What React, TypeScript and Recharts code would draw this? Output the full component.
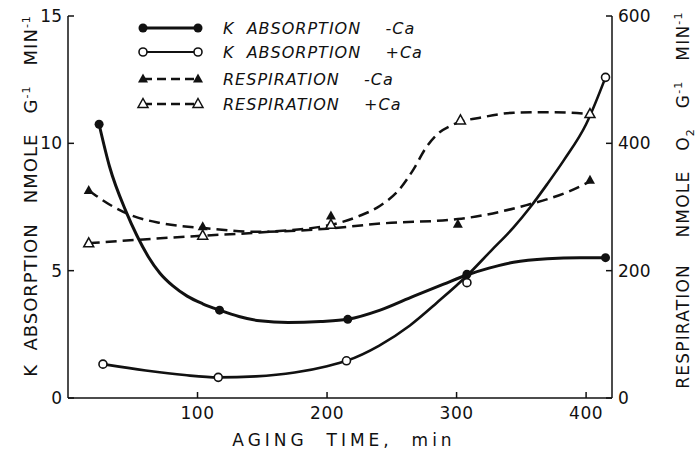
import { ComposedChart, Line, XAxis, YAxis } from 'recharts';

const FONT = '"DejaVu Sans", sans-serif';
const INK = '#111';

// measured points: aging time (min) and value
const kNoCaTime = [24, 117, 216, 308, 415];
const kNoCaValue = [10.75, 3.45, 3.09, 4.86, 5.51];
const kCaTime = [27, 116, 215, 308, 415];
const kCaValue = [1.33, 0.81, 1.46, 4.53, 12.59];
const respNoCaTime = [16, 104, 203, 301, 403];
const respNoCaValue = [326, 269, 286, 273, 342];
const respCaTime = [16, 104, 203, 303, 403];
const respCaValue = [243, 255, 272, 436, 446];

// hand-drawn smoothing curves, read along their length
const kNoCaCurveTime = [24, 32, 45, 53, 62, 71, 81, 92, 104, 117, 132, 148, 170, 195, 216, 241, 267, 290, 308, 325, 344, 370, 395, 415];
const kNoCaCurveValue = [10.75, 9.1, 7.3, 6.4, 5.55, 4.9, 4.4, 4.0, 3.7, 3.45, 3.2, 3.03, 2.96, 3.0, 3.09, 3.45, 4.0, 4.47, 4.83, 5.1, 5.33, 5.47, 5.51, 5.51];
const kCaCurveTime = [27, 60, 90, 116, 145, 175, 200, 215, 240, 264, 285, 308, 326, 344, 357, 370, 383, 400, 415];
const kCaCurveValue = [1.33, 1.08, 0.9, 0.81, 0.85, 1.0, 1.25, 1.46, 2.05, 2.85, 3.75, 4.8, 5.75, 6.7, 7.5, 8.4, 9.35, 10.75, 12.59];
const respNoCaCurveTime = [16, 32, 50, 71, 104, 148, 200, 241, 301, 354, 385, 403];
const respNoCaCurveValue = [326, 304, 286, 275, 267, 261, 266, 274, 281, 303, 323, 340];
const respCaCurveTime = [16, 61, 104, 148, 203, 225, 241, 256, 267, 276, 285, 298, 320, 344, 375, 403];
const respCaCurveValue = [243, 249.5, 255, 260, 272, 286, 302, 328, 360, 392, 414, 430, 441, 448, 449, 446];

const timeTicks = [100, 200, 300, 400];
const kTicks = [0, 5, 10, 15];
const respTicks = [0, 200, 400, 600];

const pairs = (t: number[], v: number[]) => t.map((x, i) => ({ t: x, v: v[i] }));

type Marker = 'dot' | 'ring' | 'tri' | 'openTri';

function drawMarker(kind: Marker, cx: number, cy: number, key?: string | number) {
  if (kind === 'dot') return <circle key={key} cx={cx} cy={cy} r={4.5} fill={INK} />;
  if (kind === 'ring')
    return <circle key={key} cx={cx} cy={cy} r={4} fill="#fff" stroke={INK} strokeWidth={1.6} />;
  const pts = `${cx},${cy - 5.5} ${cx + 5},${cy + 3.5} ${cx - 5},${cy + 3.5}`;
  return kind === 'tri' ? (
    <polygon key={key} points={pts} fill={INK} />
  ) : (
    <polygon key={key} points={pts} fill="#fff" stroke={INK} strokeWidth={1.5} />
  );
}

const markerDot = (kind: Marker) => (p: any) => drawMarker(kind, p.cx, p.cy, `m-${kind}-${p.index}`);

function LeftTick({ x, y, payload }: any) {
  return (
    <g>
      <line x1={x} x2={x + 6} y1={y} y2={y} stroke={INK} strokeWidth={1.5} />
      <text x={x - 6} y={y + 6} textAnchor="end" fontSize={17} fill={INK} fontFamily={FONT}>
        {payload.value}
      </text>
    </g>
  );
}

function RightTick({ x, y, payload }: any) {
  return (
    <g>
      <line x1={x - 6} x2={x} y1={y} y2={y} stroke={INK} strokeWidth={1.5} />
      <text x={x + 6} y={y + 6} textAnchor="start" fontSize={17} fill={INK} fontFamily={FONT}>
        {payload.value}
      </text>
    </g>
  );
}

function BottomTick({ x, y, payload }: any) {
  return (
    <g>
      <line x1={x} x2={x} y1={y} y2={y - 6} stroke={INK} strokeWidth={1.5} />
      <text x={x} y={y + 21} textAnchor="middle" fontSize={17} fill={INK} fontFamily={FONT}
        letterSpacing={0.5}>
        {payload.value}
      </text>
    </g>
  );
}

const sup = (s: string, rest: string) => [
  <tspan key={s + 'a'} dy={-7} fontSize={11}>{s}</tspan>,
  <tspan key={s + 'b'} dy={7}>{rest}</tspan>,
];

function LeftTitle() {
  return (
    <text transform="translate(37,196) rotate(-90)" textAnchor="middle" fontSize={18} fill={INK}
      fontFamily={FONT} letterSpacing={1} style={{ whiteSpace: 'pre' }}>
      {'K  ABSORPTION   NMOLE   G'}
      {sup('-1', '   MIN')}
      <tspan dy={-7} fontSize={11}>-1</tspan>
    </text>
  );
}

function RightTitle() {
  return (
    <text transform="translate(689,200) rotate(-90)" textAnchor="middle" fontSize={17} fill={INK}
      fontFamily={FONT} letterSpacing={1.2} style={{ whiteSpace: 'pre' }}>
      {'RESPIRATION    NMOLE   O'}
      <tspan dy={5} fontSize={11}>2</tspan>
      <tspan dy={-5}>{'   G'}</tspan>
      {sup('-1', '   MIN')}
      <tspan dy={-7} fontSize={11}>-1</tspan>
    </text>
  );
}

function BottomTitle() {
  return (
    <text x={344} y={446} textAnchor="middle" fontSize={17} fill={INK} fontFamily={FONT}
      letterSpacing={4} style={{ whiteSpace: 'pre' }}>
      {'AGING  TIME,  min'}
    </text>
  );
}

const legendRows: { label: string; marker: Marker; dashed: boolean; width: number }[] = [
  { label: 'K  ABSORPTION    -Ca', marker: 'dot', dashed: false, width: 3 },
  { label: 'K  ABSORPTION    +Ca', marker: 'ring', dashed: false, width: 2.2 },
  { label: 'RESPIRATION    -Ca', marker: 'tri', dashed: true, width: 2.4 },
  { label: 'RESPIRATION    +Ca', marker: 'openTri', dashed: true, width: 2.4 },
];

function KeyBox() {
  const rowY = [28, 52, 79, 104];
  return (
    <svg width={320} height={120} style={{ position: 'absolute', left: 130, top: 0 }}>
      {legendRows.map((r, i) => (
        <g key={r.label}>
          <line x1={13} x2={68} y1={rowY[i]} y2={rowY[i]} stroke={INK} strokeWidth={r.width}
            strokeDasharray={r.dashed ? '9 5' : undefined} />
          {drawMarker(r.marker, 13, rowY[i])}
          {drawMarker(r.marker, 68, rowY[i])}
          <text x={93} y={rowY[i] + 6} fontSize={16} fontStyle="italic" letterSpacing={1}
            fill={INK} fontFamily={FONT} style={{ whiteSpace: 'pre' }}>
            {r.label}
          </text>
        </g>
      ))}
    </svg>
  );
}

export default function App() {
  return (
    <div style={{ position: 'absolute', left: 0, top: 0, width: 698, height: 453, background: '#fff' }}>
      <ComposedChart width={698} height={453} margin={{ top: 16, right: 0, bottom: 0, left: 0 }}>
        <XAxis type="number" dataKey="t" domain={[0, 420]} ticks={timeTicks} interval={0}
          height={55} tickSize={0} tickMargin={0} tickLine={false}
          axisLine={{ stroke: INK, strokeWidth: 1.5 }} tick={(p: any) => <BottomTick {...p} />}
          label={<BottomTitle />} />
        <YAxis yAxisId="k" domain={[0, 15]} ticks={kTicks} interval={0} width={68}
          tickSize={0} tickMargin={0} tickLine={false}
          axisLine={{ stroke: INK, strokeWidth: 1.5 }} tick={(p: any) => <LeftTick {...p} />}
          label={<LeftTitle />} />
        <YAxis yAxisId="r" orientation="right" domain={[0, 600]} ticks={respTicks} interval={0}
          width={86} tickSize={0} tickMargin={0} tickLine={false}
          axisLine={{ stroke: INK, strokeWidth: 1.5 }} tick={(p: any) => <RightTick {...p} />}
          label={<RightTitle />} />

        {/* smoothed curves */}
        <Line yAxisId="r" data={pairs(respNoCaCurveTime, respNoCaCurveValue)} dataKey="v" type="monotone"
          stroke={INK} strokeWidth={2.5} strokeDasharray="11 6" dot={false} activeDot={false} isAnimationActive={false} />
        <Line yAxisId="r" data={pairs(respCaCurveTime, respCaCurveValue)} dataKey="v" type="monotone"
          stroke={INK} strokeWidth={2.5} strokeDasharray="11 6" dot={false} activeDot={false} isAnimationActive={false} />
        <Line yAxisId="k" data={pairs(kNoCaCurveTime, kNoCaCurveValue)} dataKey="v" type="monotone"
          stroke={INK} strokeWidth={3} dot={false} activeDot={false} isAnimationActive={false} />
        <Line yAxisId="k" data={pairs(kCaCurveTime, kCaCurveValue)} dataKey="v" type="monotone"
          stroke={INK} strokeWidth={2.6} dot={false} activeDot={false} isAnimationActive={false} />

        {/* measured points */}
        <Line yAxisId="r" data={pairs(respNoCaTime, respNoCaValue)} dataKey="v" stroke="none"
          dot={markerDot('tri')} activeDot={false} isAnimationActive={false} />
        <Line yAxisId="r" data={pairs(respCaTime, respCaValue)} dataKey="v" stroke="none"
          dot={markerDot('openTri')} activeDot={false} isAnimationActive={false} />
        <Line yAxisId="k" data={pairs(kNoCaTime, kNoCaValue)} dataKey="v" stroke="none"
          dot={markerDot('dot')} activeDot={false} isAnimationActive={false} />
        <Line yAxisId="k" data={pairs(kCaTime, kCaValue)} dataKey="v" stroke="none"
          dot={markerDot('ring')} activeDot={false} isAnimationActive={false} />
      </ComposedChart>
      <KeyBox />
    </div>
  );
}
